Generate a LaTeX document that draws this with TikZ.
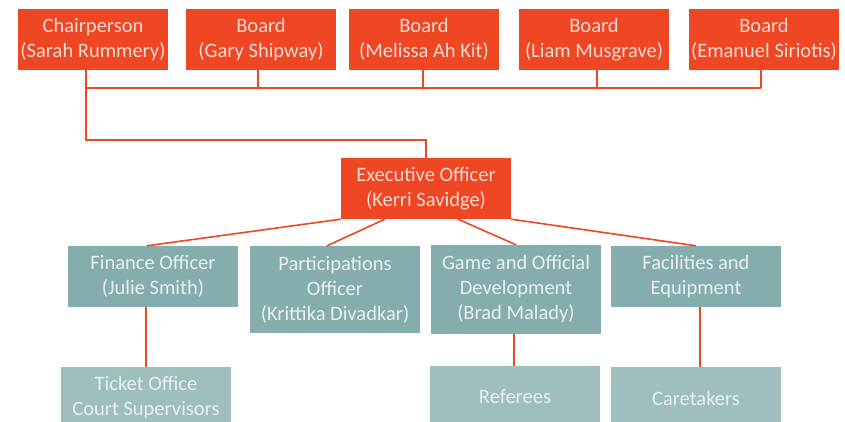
\documentclass[tikz,border=0pt]{standalone}
\usepackage{fontspec}
\setmainfont{Carlito}
\usetikzlibrary{positioning}
\definecolor{orangebox}{HTML}{EF4623}
\definecolor{tealbox}{HTML}{86ADAD}
\definecolor{lightteal}{HTML}{9EBFBD}
\definecolor{orangetext}{HTML}{FADCD3}
\definecolor{tealtext}{HTML}{E8F0F0}
\tikzset{
  base/.style={inner sep=0pt, align=center, font=\fontsize{20.5}{25}\selectfont, minimum width=150pt},
  topbox/.style={base, fill=orangebox, text=orangetext, minimum height=61pt},
  midbox/.style={base, fill=tealbox, text=tealtext},
  lowbox/.style={base, fill=lightteal, text=tealtext, minimum height=62pt},
  conn/.style={draw=orangebox, line width=1.6pt}
}
\begin{document}
\begin{tikzpicture}[x=1pt, y=-1pt]
\useasboundingbox (0,0) rectangle (845,422);
\clip (0,0) rectangle (845,422);
% top row
\node[topbox] (chair) at (93,39.5) {Chairperson\\(Sarah Rummery)};
\node[topbox] (gary) at (261,39.5) {Board\\(Gary Shipway)};
\node[topbox] (mel) at (424,39.5) {Board\\(Melissa Ah Kit)};
\node[topbox] (liam) at (594,39.5) {Board\\(Liam Musgrave)};
\node[topbox] (eman) at (764,39.5) {Board\\(Emanuel Siriotis)};
% executive
\node[topbox, minimum width=170pt] (exec) at (426,188.5) {Executive Officer\\(Kerri Savidge)};
% middle row
\node[midbox, minimum width=170pt, minimum height=61pt] (fin) at (153,276.5) {Finance Officer\\(Julie Smith)};
\node[midbox, minimum width=170pt, minimum height=87pt] (part) at (335,289.5) {Participations\\Officer\\(Krittika Divadkar)};
\node[midbox, minimum width=170pt, minimum height=89pt] (game) at (516,289.5) {Game and Official\\Development\\(Brad Malady)};
\node[midbox, minimum width=170pt, minimum height=61pt] (fac) at (696,276.5) {Facilities and\\Equipment};
% bottom row
\node[lowbox, minimum width=170pt] (tick) at (146,398) {Ticket Office\\Court Supervisors};
\node[lowbox, minimum width=170pt] (ref) at (515,397) {Referees};
\node[lowbox, minimum width=170pt] (care) at (696,398) {Caretakers};
% board connectors
\coordinate (b1) at (86,88);
\coordinate (b5) at (761,88);
\coordinate (l1) at (86,140);
\coordinate (l2) at (426,140);
\draw[conn] (b1) -- (b5);
\draw[conn] ([xshift=-7pt]chair.south) -- (l1) -- (l2) -- (exec.north);
\draw[conn] ([xshift=-3pt]gary.south) -- ([xshift=-3pt]gary.south |- b1);
\draw[conn] ([xshift=-1pt]mel.south) -- ([xshift=-1pt]mel.south |- b1);
\draw[conn] ([xshift=3pt]liam.south) -- ([xshift=3pt]liam.south |- b1);
\draw[conn] ([xshift=-3pt]eman.south) -- ([xshift=-3pt]eman.south |- b1);
% executive to middle row
\draw[conn] (exec.south west) -- ([xshift=-6pt]fin.north);
\draw[conn] ([xshift=44pt]exec.south west) -- ([xshift=-8pt]part.north);
\draw[conn] ([xshift=32pt]exec.south) -- (game.north);
\draw[conn] (exec.south east) -- (fac.north);
% middle to bottom
\draw[conn] ([xshift=-7pt]fin.south) -- (tick.north);
\draw[conn] ([xshift=-2pt]game.south) -- ([xshift=-1pt]ref.north);
\draw[conn] ([xshift=4pt]fac.south) -- ([xshift=4pt]care.north);
\end{tikzpicture}
\end{document}
